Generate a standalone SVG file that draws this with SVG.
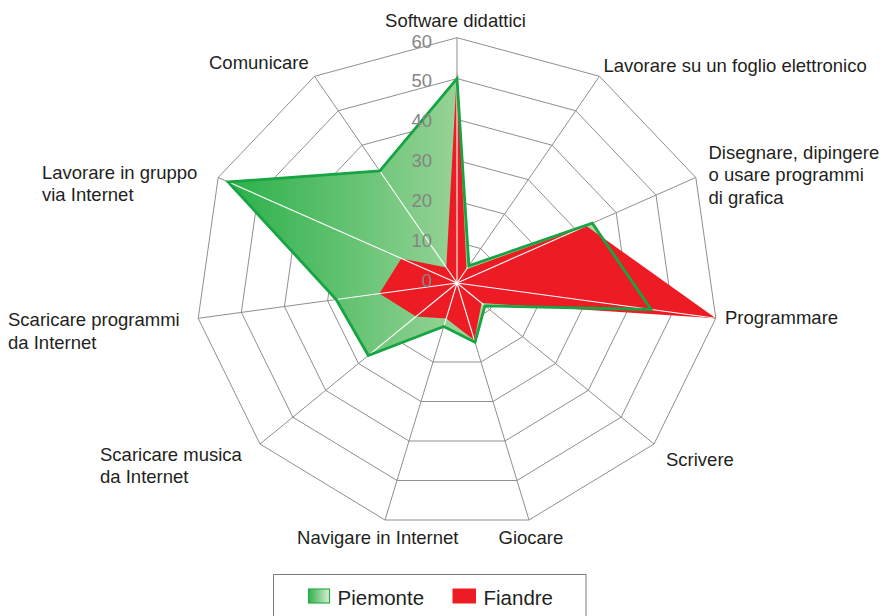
<svg xmlns="http://www.w3.org/2000/svg" xmlns:xlink="http://www.w3.org/1999/xlink" width="882" height="616" viewBox="0 0 882 616">
  <style>
    .ring { fill: none; stroke: #8f8f8f; stroke-width: 1; vector-effect: non-scaling-stroke; }
    .spoke { stroke: #8f8f8f; stroke-width: 1; }
    .spoke-w { stroke: #ffffff; stroke-width: 1.1; }
    .lbl { font-family: "Liberation Sans", Arial, sans-serif; font-size: 18.5px; fill: #231f20; }
    .num { font-family: "Liberation Sans", Arial, sans-serif; font-size: 18.5px; fill: #858585; text-anchor: end; }
    .leg { font-family: "Liberation Sans", Arial, sans-serif; font-size: 20.5px; fill: #231f20; }
  </style>
  <defs>
    <!-- outer ring (value 60), coordinates relative to chart centre -->
    <polygon id="ring60" class="ring" points="0,-245.3 142.5,-206.7 238.8,-105.5 258.8,35.3 197,161 72,237 -72,237 -197,161 -258.8,35.3 -238.8,-105.5 -142.5,-206.7"/>
    <linearGradient id="gGreen" gradientUnits="userSpaceOnUse" x1="-229" y1="0" x2="40" y2="0">
      <stop offset="0" stop-color="#2bb04a"/>
      <stop offset="1" stop-color="#a9d9a3"/>
    </linearGradient>
    <linearGradient id="gLegend" x1="0" y1="0" x2="1" y2="0">
      <stop offset="0" stop-color="#2fb04c"/>
      <stop offset="1" stop-color="#d9efd6"/>
    </linearGradient>
    <clipPath id="fillsClip">
      <polygon points="0,-204.4 11.9,-17.2 135.3,-59.8 194.1,26.5 27.9,22.8 18,59.3 -13.2,43.5 -88.7,72.5 -120.8,16.5 -228.9,-101.1 -77.2,-112"/>
      <polygon points="0,-212.6 9.5,-13.8 129.4,-57.1 258.8,35.3 24.6,20.1 17.4,57.3 -10.8,35.6 -41,33.5 -77.6,10.6 -55.7,-24.6 -10.7,-15.5"/>
    </clipPath>
  </defs>

  <g transform="translate(457,283)">
    <!-- grid: rings 10..60 and spokes -->
    <g id="grid">
      <use xlink:href="#ring60" href="#ring60" transform="scale(0.16667)"/>
      <use xlink:href="#ring60" href="#ring60" transform="scale(0.33333)"/>
      <use xlink:href="#ring60" href="#ring60" transform="scale(0.5)"/>
      <use xlink:href="#ring60" href="#ring60" transform="scale(0.66667)"/>
      <use xlink:href="#ring60" href="#ring60" transform="scale(0.83333)"/>
      <use xlink:href="#ring60" href="#ring60"/>
      <g class="spoke">
        <line x1="0" y1="0" x2="0" y2="-245.3"/>
        <line x1="0" y1="0" x2="142.5" y2="-206.7"/>
        <line x1="0" y1="0" x2="238.8" y2="-105.5"/>
        <line x1="0" y1="0" x2="258.8" y2="35.3"/>
        <line x1="0" y1="0" x2="197" y2="161"/>
        <line x1="0" y1="0" x2="72" y2="237"/>
        <line x1="0" y1="0" x2="-72" y2="237"/>
        <line x1="0" y1="0" x2="-197" y2="161"/>
        <line x1="0" y1="0" x2="-258.8" y2="35.3"/>
        <line x1="0" y1="0" x2="-238.8" y2="-105.5"/>
        <line x1="0" y1="0" x2="-142.5" y2="-206.7"/>
      </g>
    </g>

    <!-- Piemonte series fill -->
    <g id="series-piemonte">
      <polygon fill="url(#gGreen)" points="0,-204.4 11.9,-17.2 135.3,-59.8 194.1,26.5 27.9,22.8 18,59.3 -13.2,43.5 -88.7,72.5 -120.8,16.5 -228.9,-101.1 -77.2,-112"/>
    </g>

    <!-- Fiandre series fill -->
    <g id="series-fiandre">
      <polygon fill="#ed1c24" points="0,-212.6 9.5,-13.8 129.4,-57.1 258.8,35.3 24.6,20.1 17.4,57.3 -10.8,35.6 -41,33.5 -77.6,10.6 -55.7,-24.6 -10.7,-15.5"/>
    </g>

    <!-- white spokes over the filled areas -->
    <g class="spoke-w" clip-path="url(#fillsClip)">
      <line x1="0" y1="0" x2="0" y2="-245.3"/>
      <line x1="0" y1="0" x2="142.5" y2="-206.7"/>
      <line x1="0" y1="0" x2="238.8" y2="-105.5"/>
      <line x1="0" y1="0" x2="258.8" y2="35.3"/>
      <line x1="0" y1="0" x2="197" y2="161"/>
      <line x1="0" y1="0" x2="72" y2="237"/>
      <line x1="0" y1="0" x2="-72" y2="237"/>
      <line x1="0" y1="0" x2="-197" y2="161"/>
      <line x1="0" y1="0" x2="-258.8" y2="35.3"/>
      <line x1="0" y1="0" x2="-238.8" y2="-105.5"/>
      <line x1="0" y1="0" x2="-142.5" y2="-206.7"/>
    </g>

    <!-- Piemonte outline -->
    <polygon id="piemonte-outline" fill="none" stroke="#17a443" stroke-width="2.8" stroke-linejoin="miter" points="0,-204.4 11.9,-17.2 135.3,-59.8 194.1,26.5 27.9,22.8 18,59.3 -13.2,43.5 -88.7,72.5 -120.8,16.5 -228.9,-101.1 -77.2,-112"/>
  </g>

  <!-- scale values -->
  <g id="scale">
    <text class="num" x="432" y="47.5">60</text>
    <text class="num" x="432" y="87">50</text>
    <text class="num" x="432" y="127">40</text>
    <text class="num" x="432" y="167">30</text>
    <text class="num" x="432" y="207">20</text>
    <text class="num" x="432" y="247">10</text>
    <text class="num" x="432" y="286.7">0</text>
  </g>

  <!-- axis labels -->
  <g id="labels">
    <text id="ax-software" class="lbl" x="455.5" y="26.5" text-anchor="middle">Software didattici</text>
    <text id="ax-foglio" class="lbl" x="603.5" y="71.5">Lavorare su un foglio elettronico</text>
    <text id="ax-disegnare" class="lbl" x="708.5" y="158.5">Disegnare, dipingere<tspan x="708.5" y="181">o usare programmi</tspan><tspan x="708.5" y="203.5">di grafica</tspan></text>
    <text id="ax-programmare" class="lbl" x="725" y="323.5">Programmare</text>
    <text id="ax-scrivere" class="lbl" x="666" y="466">Scrivere</text>
    <text id="ax-giocare" class="lbl" x="498.5" y="544">Giocare</text>
    <text id="ax-navigare" class="lbl" x="458.5" y="544" text-anchor="end">Navigare in Internet</text>
    <text id="ax-musica" class="lbl" x="100" y="460.5">Scaricare musica<tspan x="100" y="483">da Internet</tspan></text>
    <text id="ax-programmi" class="lbl" x="8" y="326">Scaricare programmi<tspan x="8" y="348.5">da Internet</tspan></text>
    <text id="ax-gruppo" class="lbl" x="42" y="178.5">Lavorare in gruppo<tspan x="42" y="201">via Internet</tspan></text>
    <text id="ax-comunicare" class="lbl" x="209" y="68.5">Comunicare</text>
  </g>

  <!-- legend -->
  <g id="legend">
    <rect x="273.5" y="574.5" width="312.5" height="50" fill="#ffffff" stroke="#7a7a7a" stroke-width="1"/>
    <rect x="308.5" y="589" width="21" height="14" fill="url(#gLegend)" stroke="#2aad4b" stroke-width="1.2"/>
    <text class="leg" x="337.5" y="604.5">Piemonte</text>
    <rect x="452.5" y="588.5" width="23.5" height="15" fill="#ed1c24"/>
    <text class="leg" x="483.5" y="604.5">Fiandre</text>
  </g>
</svg>
